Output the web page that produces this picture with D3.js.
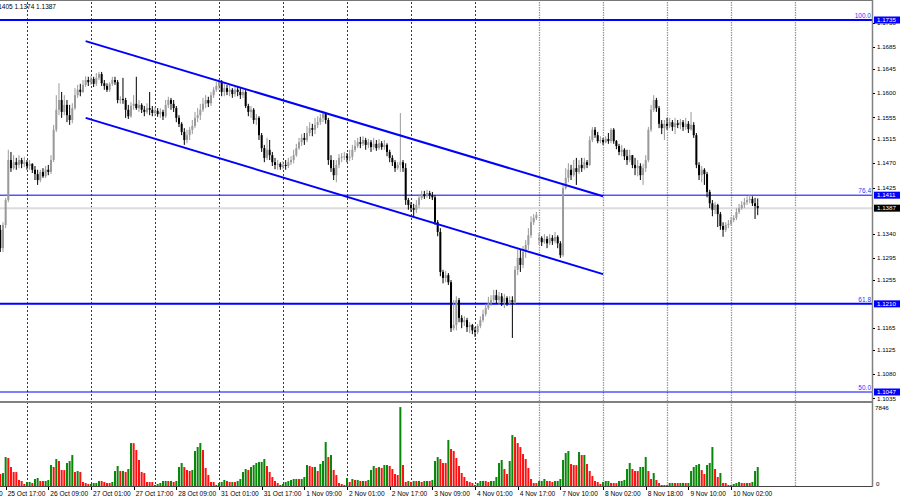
<!DOCTYPE html>
<meta charset="utf-8">
<script src="https://d3js.org/d3.v7.min.js"></script>
<style>
  body { margin: 0; background: #fff; }
  text { font-family: "Liberation Sans", Arial, sans-serif; }
</style>
<div id="chart"></div>
<script>

// hourly bars, opens = previous close unless listed
const firstOpen = 1.1347;
const gapOpens = {202: 1.1328};

const closes = [
  1.1313,1.1356,1.1402,1.1476,1.1461,1.1472,1.1467,1.1476,1.1469,1.1472,
  1.1465,1.1469,1.1458,1.1450,1.1439,1.1454,1.1446,1.1458,1.1454,1.1476,
  1.1532,1.1569,1.1587,1.1565,1.1578,1.1559,1.1550,1.1572,1.1596,1.1606,
  1.1602,1.1615,1.1624,1.1620,1.1626,1.1617,1.1628,1.1635,1.1618,1.1613,
  1.1606,1.1617,1.1624,1.1620,1.1587,1.1589,1.1587,1.1569,1.1557,1.1576,
  1.1580,1.1572,1.1578,1.1569,1.1565,1.1572,1.1569,1.1563,1.1567,1.1561,
  1.1565,1.1557,1.1578,1.1587,1.1580,1.1572,1.1554,1.1543,1.1528,1.1513,
  1.1522,1.1532,1.1539,1.1554,1.1559,1.1569,1.1580,1.1587,1.1581,1.1596,
  1.1606,1.1613,1.1620,1.1602,1.1609,1.1602,1.1606,1.1598,1.1606,1.1602,
  1.1596,1.1602,1.1576,1.1565,1.1569,1.1550,1.1554,1.1522,1.1498,1.1480,
  1.1495,1.1485,1.1472,1.1467,1.1469,1.1463,1.1467,1.1465,1.1472,1.1476,
  1.1485,1.1498,1.1509,1.1517,1.1513,1.1526,1.1535,1.1532,1.1541,1.1546,
  1.1554,1.1561,1.1550,1.1476,1.1461,1.1448,1.1467,1.1480,1.1482,1.1483,
  1.1480,1.1482,1.1495,1.1502,1.1509,1.1506,1.1513,1.1504,1.1509,1.1500,
  1.1506,1.1498,1.1507,1.1500,1.1504,1.1491,1.1480,1.1472,1.1461,1.1467,
  1.1472,1.1461,1.1402,1.1393,1.1387,1.1384,1.1393,1.1406,1.1413,1.1409,
  1.1415,1.1411,1.1407,1.1361,1.1343,1.1269,1.1258,1.1263,1.1250,1.1165,
  1.1171,1.1217,1.1184,1.1176,1.1180,1.1167,1.1171,1.1161,1.1158,1.1169,
  1.1180,1.1191,1.1202,1.1211,1.1217,1.1226,1.1217,1.1224,1.1213,1.1221,
  1.1211,1.1217,1.1213,1.1273,1.1295,1.1282,1.1306,1.1319,1.1337,1.1361,
  1.1369,1.1374,1.1332,1.1324,1.1330,1.1322,1.1332,1.1326,1.1334,1.1322,
  1.1300,1.1424,1.1443,1.1458,1.1448,1.1461,1.1454,1.1467,1.1461,1.1472,
  1.1467,1.1513,1.1532,1.1522,1.1511,1.1513,1.1509,1.1515,1.1511,1.1532,
  1.1511,1.1502,1.1491,1.1495,1.1483,1.1476,1.1485,1.1467,1.1461,1.1465,
  1.1448,1.1461,1.1476,1.1532,1.1569,1.1587,1.1572,1.1543,1.1535,1.1543,
  1.1539,1.1546,1.1537,1.1544,1.1541,1.1546,1.1537,1.1543,1.1533,1.1541,
  1.1522,1.1467,1.1448,1.1458,1.1450,1.1417,1.1396,1.1384,1.1393,1.1376,
  1.1354,1.1347,1.1356,1.1358,1.1365,1.1369,1.1380,1.1387,1.1393,1.1398,
  1.1402,1.1404,1.1396,1.1391,1.1387
];

const highs = [
  1.1356,1.1361,1.1406,1.1495,1.1491,1.1485,1.1480,1.1485,1.1480,1.1482,
  1.1476,1.1476,1.1470,1.1465,1.1458,1.1458,1.1461,1.1465,1.1467,1.1485,
  1.1541,1.1596,1.1618,1.1602,1.1596,1.1587,1.1578,1.1581,1.1609,1.1615,
  1.1617,1.1624,1.1631,1.1630,1.1631,1.1630,1.1637,1.1639,1.1639,1.1624,
  1.1618,1.1620,1.1630,1.1630,1.1624,1.1594,1.1628,1.1591,1.1578,1.1583,
  1.1596,1.1630,1.1587,1.1581,1.1576,1.1581,1.1602,1.1576,1.1574,1.1572,
  1.1572,1.1569,1.1587,1.1593,1.1591,1.1587,1.1576,1.1559,1.1546,1.1535,
  1.1532,1.1537,1.1550,1.1565,1.1572,1.1580,1.1591,1.1596,1.1593,1.1602,
  1.1611,1.1620,1.1626,1.1624,1.1617,1.1615,1.1615,1.1609,1.1611,1.1613,
  1.1609,1.1607,1.1606,1.1580,1.1576,1.1572,1.1561,1.1557,1.1526,1.1504,
  1.1517,1.1513,1.1491,1.1480,1.1476,1.1472,1.1474,1.1476,1.1480,1.1483,
  1.1495,1.1506,1.1517,1.1524,1.1526,1.1539,1.1546,1.1543,1.1554,1.1557,
  1.1561,1.1567,1.1565,1.1554,1.1485,1.1476,1.1476,1.1487,1.1489,1.1491,
  1.1489,1.1495,1.1504,1.1513,1.1517,1.1519,1.1520,1.1517,1.1515,1.1513,
  1.1517,1.1513,1.1515,1.1511,1.1513,1.1507,1.1495,1.1485,1.1476,1.1472,
  1.1563,1.1476,1.1470,1.1406,1.1398,1.1395,1.1402,1.1413,1.1419,1.1419,
  1.1421,1.1419,1.1417,1.1411,1.1365,1.1350,1.1273,1.1271,1.1267,1.1254,
  1.1217,1.1224,1.1221,1.1189,1.1187,1.1184,1.1176,1.1173,1.1167,1.1173,
  1.1187,1.1199,1.1210,1.1223,1.1226,1.1236,1.1236,1.1232,1.1230,1.1228,
  1.1224,1.1224,1.1224,1.1280,1.1310,1.1310,1.1317,1.1328,1.1350,1.1372,
  1.1376,1.1380,1.1341,1.1335,1.1339,1.1335,1.1339,1.1337,1.1343,1.1337,
  1.1326,1.1430,1.1461,1.1470,1.1467,1.1476,1.1480,1.1476,1.1480,1.1480,
  1.1476,1.1520,1.1537,1.1537,1.1528,1.1520,1.1517,1.1520,1.1526,1.1535,
  1.1535,1.1513,1.1506,1.1504,1.1498,1.1495,1.1495,1.1485,1.1480,1.1476,
  1.1470,1.1469,1.1485,1.1537,1.1578,1.1596,1.1591,1.1576,1.1550,1.1550,
  1.1554,1.1554,1.1550,1.1554,1.1550,1.1552,1.1550,1.1554,1.1548,1.1565,
  1.1546,1.1526,1.1472,1.1465,1.1461,1.1454,1.1421,1.1402,1.1398,1.1395,
  1.1380,1.1361,1.1361,1.1365,1.1371,1.1374,1.1387,1.1395,1.1400,1.1406,
  1.1409,1.1411,1.1409,1.1406,1.1405
];

const lows = [
  1.1306,1.1306,1.1350,1.1398,1.1454,1.1458,1.1458,1.1461,1.1461,1.1463,
  1.1458,1.1458,1.1452,1.1439,1.1430,1.1435,1.1443,1.1443,1.1448,1.1450,
  1.1472,1.1528,1.1559,1.1554,1.1559,1.1546,1.1541,1.1544,1.1569,1.1591,
  1.1594,1.1600,1.1611,1.1613,1.1615,1.1611,1.1613,1.1624,1.1613,1.1606,
  1.1602,1.1602,1.1613,1.1615,1.1581,1.1580,1.1580,1.1554,1.1552,1.1554,
  1.1569,1.1569,1.1565,1.1563,1.1557,1.1561,1.1559,1.1557,1.1557,1.1556,
  1.1554,1.1550,1.1554,1.1572,1.1569,1.1565,1.1546,1.1537,1.1522,1.1504,
  1.1507,1.1513,1.1524,1.1535,1.1546,1.1550,1.1565,1.1572,1.1574,1.1576,
  1.1591,1.1602,1.1606,1.1594,1.1594,1.1596,1.1594,1.1591,1.1593,1.1594,
  1.1589,1.1591,1.1572,1.1557,1.1554,1.1543,1.1541,1.1513,1.1491,1.1472,
  1.1476,1.1476,1.1465,1.1459,1.1458,1.1458,1.1459,1.1458,1.1461,1.1467,
  1.1470,1.1482,1.1495,1.1502,1.1504,1.1509,1.1520,1.1520,1.1524,1.1535,
  1.1541,1.1546,1.1543,1.1467,1.1454,1.1439,1.1435,1.1461,1.1472,1.1476,
  1.1472,1.1474,1.1476,1.1491,1.1498,1.1498,1.1502,1.1495,1.1498,1.1491,
  1.1495,1.1493,1.1495,1.1495,1.1495,1.1483,1.1472,1.1465,1.1454,1.1458,
  1.1454,1.1454,1.1393,1.1384,1.1380,1.1371,1.1378,1.1387,1.1402,1.1404,
  1.1406,1.1404,1.1402,1.1356,1.1335,1.1261,1.1248,1.1250,1.1245,1.1158,
  1.1161,1.1161,1.1176,1.1165,1.1169,1.1158,1.1156,1.1154,1.1149,1.1154,
  1.1165,1.1176,1.1187,1.1199,1.1206,1.1213,1.1211,1.1208,1.1206,1.1202,
  1.1206,1.1210,1.1147,1.1210,1.1263,1.1269,1.1276,1.1295,1.1310,1.1332,
  1.1356,1.1365,1.1319,1.1317,1.1321,1.1313,1.1319,1.1319,1.1322,1.1313,
  1.1295,1.1297,1.1421,1.1435,1.1439,1.1445,1.1430,1.1450,1.1454,1.1458,
  1.1461,1.1465,1.1509,1.1517,1.1507,1.1507,1.1504,1.1507,1.1506,1.1507,
  1.1506,1.1496,1.1485,1.1483,1.1476,1.1467,1.1472,1.1461,1.1448,1.1446,
  1.1439,1.1430,1.1454,1.1472,1.1528,1.1565,1.1565,1.1535,1.1524,1.1513,
  1.1532,1.1535,1.1530,1.1524,1.1535,1.1533,1.1530,1.1532,1.1526,1.1530,
  1.1517,1.1461,1.1439,1.1435,1.1430,1.1407,1.1387,1.1372,1.1376,1.1352,
  1.1347,1.1334,1.1343,1.1350,1.1354,1.1361,1.1365,1.1376,1.1384,1.1387,
  1.1393,1.1396,1.1391,1.1367,1.1374
];

const volumes = [
  1176,1270,2840,2745,1860,1372,1365,590,490,196,
  392,398,294,686,784,490,486,492,588,2058,
  1862,2646,2450,1568,1560,2254,2450,3038,1372,1470,
  1372,392,294,196,200,294,300,490,486,392,
  294,290,392,1470,1960,1470,1476,1372,1666,4214,
  4200,3528,2548,1372,1274,392,390,385,98,196,
  294,490,495,488,492,392,490,1862,2254,1862,
  1568,1470,1568,3430,3822,4214,3528,1764,1078,392,
  388,98,294,392,588,490,392,395,390,490,
  686,1372,1666,1568,1862,2058,2254,2352,2360,2646,
  1960,1372,882,490,294,98,196,392,490,588,
  686,690,684,688,882,2058,1960,1862,1866,1470,
  2156,2450,4312,2842,3038,1568,1078,294,196,98,
  784,392,686,588,590,490,494,488,588,1568,
  1960,1764,1862,1764,2058,2060,1960,1666,1176,1078,
  7742,2058,392,490,392,490,486,494,392,490,
  494,488,588,2450,2842,2646,2254,2250,4508,3626,
  3430,2744,1960,1274,882,490,392,294,98,294,
  490,494,488,392,490,494,882,2254,2548,1666,
  1176,2450,4998,4802,4214,3822,3136,2646,1764,686,
  294,290,490,494,686,490,486,392,490,494,
  686,2548,3234,3430,2156,2058,2052,3332,3038,3045,
  2156,1470,980,490,392,196,392,490,494,294,
  290,286,490,494,588,1666,2254,1666,1470,1465,
  1862,1870,2842,1470,686,1274,588,294,98,94,
  90,294,298,294,290,296,300,294,298,1470,
  1862,2058,2156,1568,1176,2058,2254,3822,1666,882,
  1274,294,290,98,94,196,294,392,294,290,
  296,292,392,1470,1862
];

// first label sits on bar -14, then one every 16 bars
const timeLabels = ["25 Oct 01:00","25 Oct 17:00","26 Oct 09:00","27 Oct 01:00","27 Oct 17:00",
  "28 Oct 09:00","31 Oct 01:00","31 Oct 17:00","1 Nov 09:00","2 Nov 01:00","2 Nov 17:00",
  "3 Nov 09:00","4 Nov 01:00","4 Nov 17:00","7 Nov 10:00","8 Nov 02:00","8 Nov 18:00",
  "9 Nov 10:00","10 Nov 02:00"];

// ticks hidden behind the level boxes are left out
const priceTicks = [1.1730,1.1685,1.1645,1.1600,1.1555,1.1515,1.1470,1.1425,
  1.1340,1.1295,1.1255,1.1165,1.1125,1.1080,1.1035];

const fibLevels = ["100.0","76.4","61.8","50.0"];
const fibPrices = [1.1735,1.1411,1.1210,1.1047];
const fibWidths = [2,1,2,1];

const channelUpper = [[32,1.1696],[226,1.1409]];
const channelLower = [[32,1.1554],[226,1.1265]];

const lastPrice = 1.1387;
const volMax = 7846;
const header = "1.1391 1.1405 1.1374 1.1387";

const W = 900, H = 500, plotR = 872;

const svg = d3.select("#chart").append("svg")
  .attr("width", W).attr("height", H);

const x = d3.scaleLinear().domain([0, 1]).range([0.3, 2.967]);
const y = d3.scaleLinear().domain([1.1047, 1.1735]).range([392, 20]);
const yv = d3.scaleLinear().domain([0, volMax]).range([486, 406]);

svg.append("clipPath").attr("id", "cp")
  .append("rect").attr("x", 0).attr("y", 0).attr("width", plotR).attr("height", 401);
svg.append("clipPath").attr("id", "cv")
  .append("rect").attr("x", 0).attr("y", 403).attr("width", plotR).attr("height", 83);

// vertical grid
const gridBars = d3.range(10, 330, 24).filter(b => x(b) < 800);
svg.append("g").selectAll("line")
  .data(gridBars)
  .join("line")
    .attr("x1", d => Math.round(x(d)) + 0.5)
    .attr("x2", d => Math.round(x(d)) + 0.5)
    .attr("y1", 2).attr("y2", 486)
    .attr("stroke", d => x(d) < 500 ? "#222" : "#999")
    .attr("stroke-width", d => x(d) < 500 ? 0.9 : 1.3)
    .attr("stroke-dasharray", d => x(d) < 500 ? "2,2" : "1.5,1");

const pane = svg.append("g").attr("clip-path", "url(#cp)");

// current price line
pane.append("line")
  .attr("x1", 0).attr("x2", plotR)
  .attr("y1", y(lastPrice)).attr("y2", y(lastPrice))
  .attr("stroke", "#dcdcdc").attr("stroke-width", 2);

// fibonacci levels
pane.append("g").selectAll("line")
  .data(fibPrices)
  .join("line")
    .attr("x1", 0).attr("x2", plotR)
    .attr("y1", d => y(d)).attr("y2", d => y(d))
    .attr("stroke", "#0000ff")
    .attr("stroke-width", (d, i) => fibWidths[i]);

pane.append("g").selectAll("text")
  .data(fibLevels)
  .join("text")
    .attr("x", plotR - 1)
    .attr("y", (d, i) => y(fibPrices[i]) - 2)
    .attr("text-anchor", "end")
    .attr("font-size", 6.5)
    .attr("fill", "#3333ff")
    .text(d => d);

// candles
const bars = closes.map((c, i) => {
  const o = gapOpens[i] !== undefined ? gapOpens[i] : (i === 0 ? firstOpen : closes[i - 1]);
  return {i: i, o: o, h: highs[i], l: lows[i], c: c};
});
const candle = pane.append("g").selectAll("g")
  .data(bars)
  .join("g")
    .attr("fill", d => d.c >= d.o ? "#9a9a9a" : "#000")
    .attr("stroke", d => d.c >= d.o ? "#9a9a9a" : "#000");
candle.append("line")
  .attr("x1", d => x(d.i)).attr("x2", d => x(d.i))
  .attr("y1", d => y(d.h)).attr("y2", d => y(d.l))
  .attr("stroke-width", 1);
candle.append("rect")
  .attr("stroke", "none")
  .attr("x", d => x(d.i) - 1)
  .attr("width", 2)
  .attr("y", d => y(Math.max(d.o, d.c)))
  .attr("height", d => Math.max(1, Math.abs(y(d.o) - y(d.c))));

// channel
pane.append("g").selectAll("line")
  .data([channelUpper, channelLower])
  .join("line")
    .attr("x1", d => x(d[0][0])).attr("y1", d => y(d[0][1]))
    .attr("x2", d => x(d[1][0])).attr("y2", d => y(d[1][1]))
    .attr("stroke", "#0000ff").attr("stroke-width", 2);

// header
svg.append("text")
  .attr("x", 56).attr("y", 9)
  .attr("text-anchor", "end")
  .attr("font-size", 6.5)
  .attr("fill", "#000")
  .text(header);

// volumes
const vpane = svg.append("g").attr("clip-path", "url(#cv)");
vpane.selectAll("rect")
  .data(volumes)
  .join("rect")
    .attr("x", (d, i) => x(i) - 1)
    .attr("width", 2)
    .attr("y", d => yv(d))
    .attr("height", d => 486 - yv(d))
    .attr("fill", (d, i) => i > 0 && d > volumes[i - 1] ? "#0a870a" : "#ff1010");

// frame
svg.append("line").attr("x1", 0).attr("x2", plotR + 1).attr("y1", 0.5).attr("y2", 0.5)
  .attr("stroke", "#777");
svg.append("rect").attr("x", 0).attr("y", 401).attr("width", plotR + 1).attr("height", 2)
  .attr("fill", "#808080");
svg.append("line").attr("x1", 0).attr("x2", plotR + 1).attr("y1", 486.5).attr("y2", 486.5)
  .attr("stroke", "#444");
svg.append("line").attr("x1", plotR + 0.5).attr("x2", plotR + 0.5).attr("y1", 0).attr("y2", 487)
  .attr("stroke", "#808080").attr("stroke-width", 1.5);

// price axis
const pa = svg.append("g");
pa.selectAll("line")
  .data(priceTicks)
  .join("line")
    .attr("x1", plotR + 1).attr("x2", plotR + 3)
    .attr("y1", d => Math.round(y(d)) + 0.5).attr("y2", d => Math.round(y(d)) + 0.5)
    .attr("stroke", "#000");
pa.selectAll("text")
  .data(priceTicks)
  .join("text")
    .attr("x", plotR + 5)
    .attr("y", d => y(d) + 2.2)
    .attr("font-size", 6.2)
    .text(d => d.toFixed(4));

// level boxes
const boxes = fibPrices.map(p => ({p: p, fill: "#0000ff"}))
  .concat([{p: lastPrice, fill: "#000"}]);
const bx = svg.append("g").selectAll("g")
  .data(boxes)
  .join("g");
bx.append("rect")
  .attr("x", plotR + 2).attr("width", W - plotR - 2)
  .attr("y", d => y(d.p) - 3.5).attr("height", 7)
  .attr("fill", d => d.fill);
bx.append("text")
  .attr("x", plotR + 5)
  .attr("y", d => y(d.p) + 2.2)
  .attr("font-size", 6.2)
  .attr("fill", "#fff")
  .text(d => d.p.toFixed(4));

// volume axis
svg.append("text").attr("x", plotR + 3).attr("y", 410)
  .attr("font-size", 6.2).text(volMax);
svg.append("text").attr("x", plotR + 4).attr("y", 486)
  .attr("font-size", 6.2).text("0");

// time axis
const labelBars = timeLabels.map((t, k) => -14 + 16 * k);
const ta = svg.append("g");
ta.selectAll("line")
  .data(labelBars)
  .join("line")
    .attr("x1", d => Math.round(x(d)) + 0.5).attr("x2", d => Math.round(x(d)) + 0.5)
    .attr("y1", 487).attr("y2", 490)
    .attr("stroke", "#000");
ta.selectAll("text")
  .data(timeLabels)
  .join("text")
    .attr("x", (d, k) => x(labelBars[k]) + 2)
    .attr("y", 495.5)
    .attr("font-size", 6.6)
    .text(d => d);

</script>
